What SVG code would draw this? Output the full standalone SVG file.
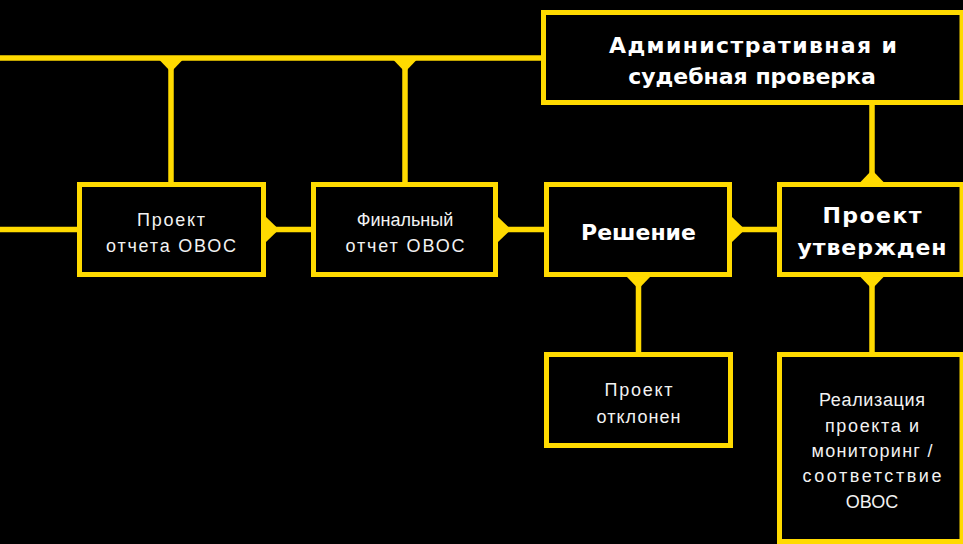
<svg xmlns="http://www.w3.org/2000/svg" width="963" height="544" viewBox="0 0 963 544">
<defs>
<style>
.bg{fill:#000}
.box{fill:#000;stroke:#FFDA00;stroke-width:5}
.ln{stroke:#FFDA00;stroke-width:5.5;fill:none}
.tri{fill:#FFDA00}
.t{font-family:"Liberation Sans",Arial,sans-serif;font-size:18px;fill:#F2F2F2;text-anchor:middle}
.b{font-family:"DejaVu Sans","Liberation Sans",sans-serif;font-weight:bold;font-size:22px;fill:#FFFFFF;text-anchor:middle}
</style>
</defs>
<rect class="bg" x="0" y="0" width="963" height="544"/>
<g id="connectors">
<line class="ln" x1="0" y1="58" x2="543" y2="58"/>
<line class="ln" x1="171" y1="58" x2="171" y2="183"/>
<line class="ln" x1="405" y1="58" x2="405" y2="183"/>
<line class="ln" x1="0" y1="229.5" x2="78" y2="229.5"/>
<line class="ln" x1="265" y1="229.5" x2="312" y2="229.5"/>
<line class="ln" x1="497" y1="229.5" x2="545" y2="229.5"/>
<line class="ln" x1="731" y1="229.5" x2="778" y2="229.5"/>
<line class="ln" x1="872" y1="104" x2="872" y2="183"/>
<line class="ln" x1="638.5" y1="276" x2="638.5" y2="353"/>
<line class="ln" x1="872" y1="276" x2="872" y2="353"/>
<polygon class="tri" points="159.5,60 182.5,60 171,72"/>
<polygon class="tri" points="393.5,60 416.5,60 405,72"/>
<polygon class="tri" points="266,217 266,242 279,229.5"/>
<polygon class="tri" points="498,217 498,242 511,229.5"/>
<polygon class="tri" points="732,217 732,242 745,229.5"/>
<polygon class="tri" points="860.5,182 883.5,182 872,170"/>
<polygon class="tri" points="627,277 650,277 638.5,289"/>
<polygon class="tri" points="860.5,277 883.5,277 872,289"/>
</g>
<g id="admin">
<rect class="box" x="543.5" y="12.5" width="418.5" height="90"/>
<text class="b" x="753" y="53" textLength="288" lengthAdjust="spacing">Административная и</text>
<text class="b" x="752" y="84">судебная проверка</text>
</g>
<g id="draft">
<rect class="box" x="79.5" y="184.5" width="184" height="90"/>
<text class="t" x="171" y="226" textLength="68" lengthAdjust="spacing">Проект</text>
<text class="t" x="171" y="252" textLength="130" lengthAdjust="spacing">отчета ОВОС</text>
</g>
<g id="final">
<rect class="box" x="313.5" y="184.5" width="182" height="90"/>
<text class="t" x="405" y="226">Финальный</text>
<text class="t" x="405" y="252" textLength="119" lengthAdjust="spacing">отчет ОВОС</text>
</g>
<g id="decision">
<rect class="box" x="546.5" y="184.5" width="183" height="90"/>
<text class="b" x="638.5" y="240">Решение</text>
</g>
<g id="approved">
<rect class="box" x="779.5" y="184.5" width="182.5" height="90"/>
<text class="b" x="872" y="223" textLength="99" lengthAdjust="spacing">Проект</text>
<text class="b" x="872" y="255" textLength="149" lengthAdjust="spacing">утвержден</text>
</g>
<g id="rejected">
<rect class="box" x="546.5" y="354.5" width="184" height="91"/>
<text class="t" x="638.5" y="396" textLength="68" lengthAdjust="spacing">Проект</text>
<text class="t" x="638.5" y="423" textLength="84" lengthAdjust="spacing">отклонен</text>
</g>
<g id="implementation">
<rect class="box" x="779.5" y="354.5" width="182.5" height="187"/>
<text class="t" x="872" y="406" textLength="106" lengthAdjust="spacing">Реализация</text>
<text class="t" x="872" y="432" textLength="94" lengthAdjust="spacing">проекта и</text>
<text class="t" x="872" y="457" textLength="121" lengthAdjust="spacing">мониторинг /</text>
<text class="t" x="872" y="482" textLength="139" lengthAdjust="spacing">соответствие</text>
<text class="t" x="872" y="508">ОВОС</text>
</g>
</svg>
